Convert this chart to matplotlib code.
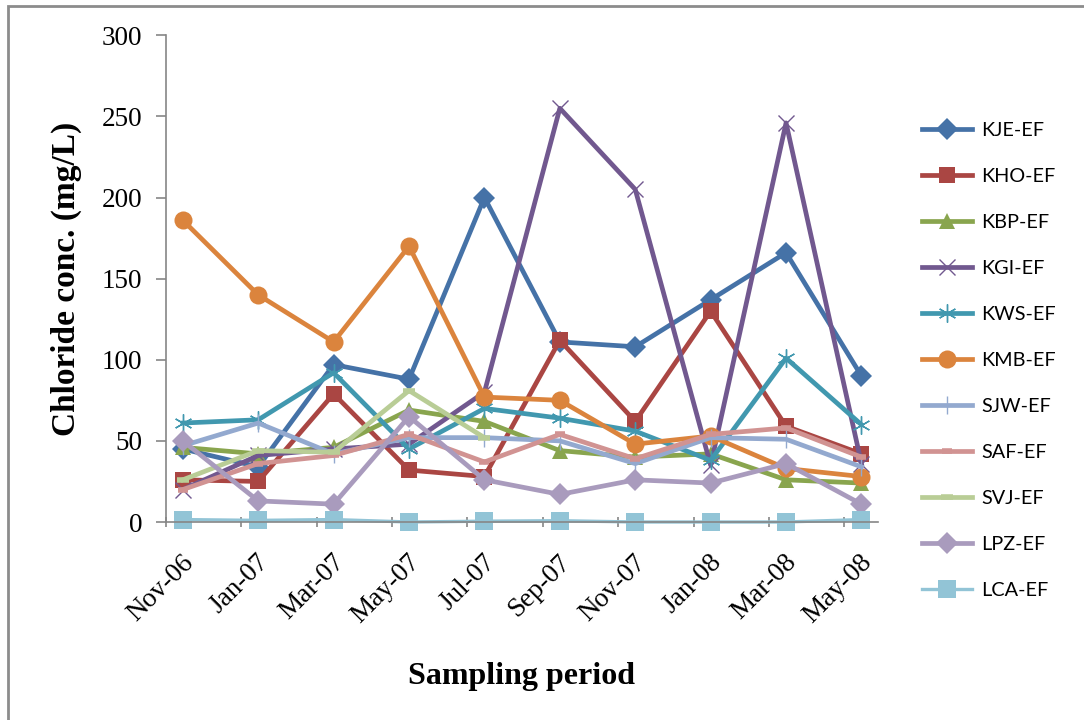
import numpy as np
import matplotlib
matplotlib.use("Agg")
import matplotlib.pyplot as plt
from matplotlib.patches import Rectangle
from matplotlib.transforms import ScaledTranslation

months = ["Nov-06", "Jan-07", "Mar-07", "May-07", "Jul-07",
          "Sep-07", "Nov-07", "Jan-08", "Mar-08", "May-08"]

kje = [45, 34, 97, 88, 200, 111, 108, 137, 166, 90]
kho = [26, 25, 79, 32, 28, 112, 62, 130, 59, 42]
kbp = [46, 42, 46, 69, 62, 44, 40, 42, 26, 24]
kgi = [20, 41, 45, 48, 80, 255, 205, 35, 246, 36]
kws = [61, 63, 92, 45, 70, 64, 56, 38, 101, 60]
kmb = [186, 140, 111, 170, 77, 75, 48, 53, 33, 28]
sjw = [47, 61, 42, 52, 52, 50, 36, 52, 51, 34]
saf = [20, 36, 41, 54, 37, 54, 39, 54, 58, 40]
svj = [26, 44, 43, 81, 52, np.nan, np.nan, np.nan, np.nan, np.nan]
lpz = [50, 13, 11, 65, 26, 17, 26, 24, 36, 11]
lca = [1.5, 1, 1.5, 0, 0.5, 0.8, 0, 0, 0, 1.5]

series = [
    ("KJE-EF", kje, "#4572A7", "D", 11),
    ("KHO-EF", kho, "#AA4643", "s", 12),
    ("KBP-EF", kbp, "#89A54E", "^", 11),
    ("KGI-EF", kgi, "#71588F", "x", 12),
    ("KWS-EF", kws, "#4198AF", (6, 2, 0), 13),
    ("KMB-EF", kmb, "#DB843D", "o", 13),
    ("SJW-EF", sjw, "#93A9CF", "|", 13),
    ("SAF-EF", saf, "#D19392", "_", 7),
    ("SVJ-EF", svj, "#B9CD96", "_", 8),
    ("LPZ-EF", lpz, "#A99BBD", "D", 11),
    ("LCA-EF", lca, "#92C4D6", "s", 13),
]

serif = ["Liberation Serif", "DejaVu Serif"]

fig = plt.figure(figsize=(10.84, 7.2), dpi=100)
ax = fig.add_axes([0.153, 0.275, 0.657, 0.676])

x = np.arange(len(months))
for name, vals, col, mk, ms in series:
    lw = 2.4 if name == "LCA-EF" else 3.4
    if mk in ("x", "|") or isinstance(mk, tuple):
        ax.plot(x, vals, color=col, lw=lw, marker=mk, ms=ms, clip_on=False,
                markeredgewidth=1.0, markeredgecolor=col, label=name)
    elif mk == "_":
        ax.plot(x, vals, color=col, lw=lw, marker=mk, ms=ms, clip_on=False,
                markeredgewidth=4, label=name)
    else:
        ax.plot(x, vals, color=col, lw=lw, marker=mk, ms=ms, clip_on=False,
                markeredgewidth=0, label=name)

ax.set_xlim(-0.225, 9.22)
ax.set_ylim(0, 300)
ax.set_yticks(np.arange(0, 301, 50))

for s in ["top", "right"]:
    ax.spines[s].set_visible(False)
for s in ["left", "bottom"]:
    ax.spines[s].set_color("#868686")
    ax.spines[s].set_linewidth(1.2)

ax.set_xticks(x)
ax.set_xticks(np.arange(10) - 0.225, minor=True)
ax.tick_params(axis="x", which="major", length=0, pad=20)
ax.tick_params(axis="x", which="minor", length=7, color="#868686", width=1.2, direction="inout")
ax.tick_params(axis="y", length=7, color="#868686", width=1.2, pad=10)
ax.set_xticklabels(months, rotation=45, ha="right", rotation_mode="anchor",
                   family=serif, fontsize=19.5)
off = ScaledTranslation(-2 / 100, 0, fig.dpi_scale_trans)
for lbl in ax.get_xticklabels():
    lbl.set_transform(lbl.get_transform() + off)
for lbl in ax.get_yticklabels():
    lbl.set_family(serif)
    lbl.set_fontsize(19.5)

ax.set_xlabel("Sampling period", family=serif, fontsize=23, fontweight="bold", labelpad=24)
ax.set_ylabel("Chloride conc. (mg/L)", family=serif, fontsize=24, fontweight="bold", labelpad=14)

leg = ax.legend(loc="upper left", bbox_to_anchor=(0.843, 0.842), bbox_transform=fig.transFigure,
                frameon=False, fontsize=14.3, labelspacing=1.46, handlelength=2.55,
                handletextpad=0.45, borderaxespad=0)
for t in leg.get_texts():
    t.set_family(["Lato", "DejaVu Sans"])

# outer chart frame (only top and left edges visible)
fig.patches.append(Rectangle((8 / 1084, -0.1), 1.2, 1.1 - 6 / 720, transform=fig.transFigure,
                             fill=False, edgecolor="#8c8c8c", lw=2.0))

fig.savefig("out.png", dpi=100)
